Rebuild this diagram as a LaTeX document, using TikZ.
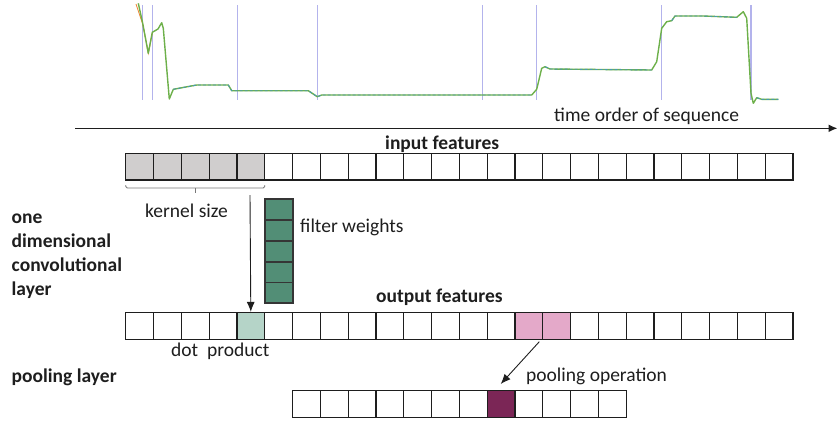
\documentclass[tikz,border=0pt]{standalone}
\usepackage{fontspec}
\setmainfont{Carlito}
\usetikzlibrary{arrows.meta}
\definecolor{cellgray}{HTML}{D0CECE}
\definecolor{filtgreen}{HTML}{528E76}
\definecolor{dotgreen}{HTML}{B5D4C8}
\definecolor{poolpink}{HTML}{E4A9C9}
\definecolor{plum}{HTML}{7B2656}
\definecolor{marker}{HTML}{B3B3EC}
\definecolor{sigreen}{HTML}{6DB04A}
\definecolor{sigteal}{HTML}{4A9AB0}
\definecolor{sigorange}{HTML}{EE8A3A}
\definecolor{ink}{HTML}{1E1E1E}
\tikzset{
  cell/.style={draw=ink, line width=1.2pt, fill=white, inner sep=0pt,
    minimum width=27.8pt, minimum height=26.7pt},
  fcell/.style={draw=ink!90, line width=1.8pt, fill=filtgreen, inner sep=0pt,
    minimum width=28.3pt, minimum height=20.8pt},
  lbl/.style={font=\fontsize{19.5}{23}\selectfont, text=ink, inner sep=0pt, anchor=base west},
  blbl/.style={lbl, font=\fontsize{19.5}{23}\selectfont\bfseries},
  arr/.style={line width=0.9pt, draw=ink, -{Latex[length=10pt,width=8pt]}},
  levels/.style={sigteal, line width=0.9pt, dash pattern=on 3pt off 2pt},
}
\begin{document}
\begin{tikzpicture}[x=1pt,y=-1pt]
\useasboundingbox (0,0) rectangle (838,421);

% event markers over the signal
\foreach \mx in {142.7,152.3,237.7,317.7,482.3,536.7,661.7,751}
  \draw[marker, line width=1.1pt] (\mx,5) -- (\mx,100);

% measured signal and fitted levels
\draw[sigorange, line width=0.9pt] (136,4) -- (142.7,24) -- (148.3,53) -- (152.3,33);
\draw[sigreen, line width=1.4pt, line join=round]
  (138.3,3.3) -- (142.7,23.3) -- (148.3,53.3) -- (152.3,32.3) -- (158,29) -- (161.7,22.7)
  -- (163.3,28.3) -- (169.3,99) -- (173.3,89.3) -- (196.7,85) -- (228.3,85) -- (231.7,90.7)
  -- (308.3,90.7) -- (317.3,96.7) -- (321.7,95) -- (531.7,95) -- (536.7,89.3) -- (541.7,68.3)
  -- (545,66.7) -- (550,69) -- (651.7,70) -- (656.7,61.7) -- (661.7,28.3) -- (666.7,21.7)
  -- (671.7,20.7) -- (675,16) -- (703.3,16) -- (736.7,17.3) -- (743.3,11.7) -- (746.7,18.3)
  -- (751,93.3) -- (753.3,103.3) -- (756.7,97.7) -- (761.7,99.3) -- (778.3,99.3);
\draw[levels]
  (173.3,89.3) -- (196.7,85) -- (228.3,85) -- (231.7,90.7) -- (308.3,90.7) -- (317.3,96.7)
  -- (321.7,95) -- (531.7,95);
\draw[levels] (545,66.7) -- (550,69) -- (651.7,70);
\draw[levels] (671.7,20.7) -- (675,16) -- (703.3,16) -- (736.7,17.3);
\draw[levels] (756.7,97.7) -- (761.7,99.3) -- (778.3,99.3);

% time axis
\coordinate (axisL) at (75,128.3);
\coordinate (axisR) at (837.5,128.3);
\draw[line width=1.5pt, draw=ink, -{Latex[length=9pt,width=8pt]}] (axisL) -- (axisR);
\node[lbl] (timelbl) at (554,121.7) {time order of sequence};

% input feature row
\node[blbl] (inlbl) at (385,149) {input features};
\foreach \i in {0,...,23}
  \node[cell] (in\i) at ({139.6+27.8*\i},166.65) {};
\foreach \i in {0,...,4}
  \node[cell, fill=cellgray] at (in\i) {};

% kernel size bracket
\coordinate (kbA) at (125.7,185);
\coordinate (kbB) at (264.7,185);
\draw[ink!60, line width=0.8pt, rounded corners=1.5pt]
  (kbA) -- (125.7,188) -- (264.7,188) -- (kbB);
\draw[ink!60, line width=0.8pt] (195,188) -- (195,192.5);
\node[lbl] (klbl) at (145,217.3) {kernel size};

% filter weights
\foreach \j in {0,...,4}
  \node[fcell] (fw\j) at (279.1,{209.7+20.8*\j}) {};
\node[lbl] (fwlbl) at (300,232.3) {filter weights};

% output feature row
\node[blbl] (outlbl) at (376,302) {output features};
\foreach \i in {0,...,23}
  \node[cell] (out\i) at ({139.6+27.8*\i},325.85) {};
\node[cell, fill=dotgreen] at (out4) {};
\node[cell, fill=poolpink] at (out14) {};
\node[cell, fill=poolpink] at (out15) {};
\node[lbl] (dotlbl) at (171,356.7) {dot\ \ product};

% convolution arrow
\coordinate (convtop) at (250,195);
\draw[arr] (convtop) -- (out4.north);

% pooling row
\foreach \i in {6,...,17}
  \node[cell] (pool\i) at ({139.6+27.8*\i},404.1) {};
\node[cell, fill=plum] at (pool13) {};
\coordinate (poolsrc) at (539.3,341.7);
\coordinate (pooldst) at (500.7,384);
\draw[arr] (poolsrc) -- (pooldst);
\node[lbl] (poollbl) at (526,381.7) {pooling operation};

% layer names
\node[blbl] (convname) at (11.5,223.5) {one};
\node[blbl] (convname2) at (11.5,247.5) {dimensional};
\node[blbl] (convname3) at (11.5,271.5) {convolutional};
\node[blbl] (convname4) at (11.5,295.5) {layer};
\node[blbl] (poolname) at (11.5,382) {pooling layer};
\end{tikzpicture}
\end{document}
